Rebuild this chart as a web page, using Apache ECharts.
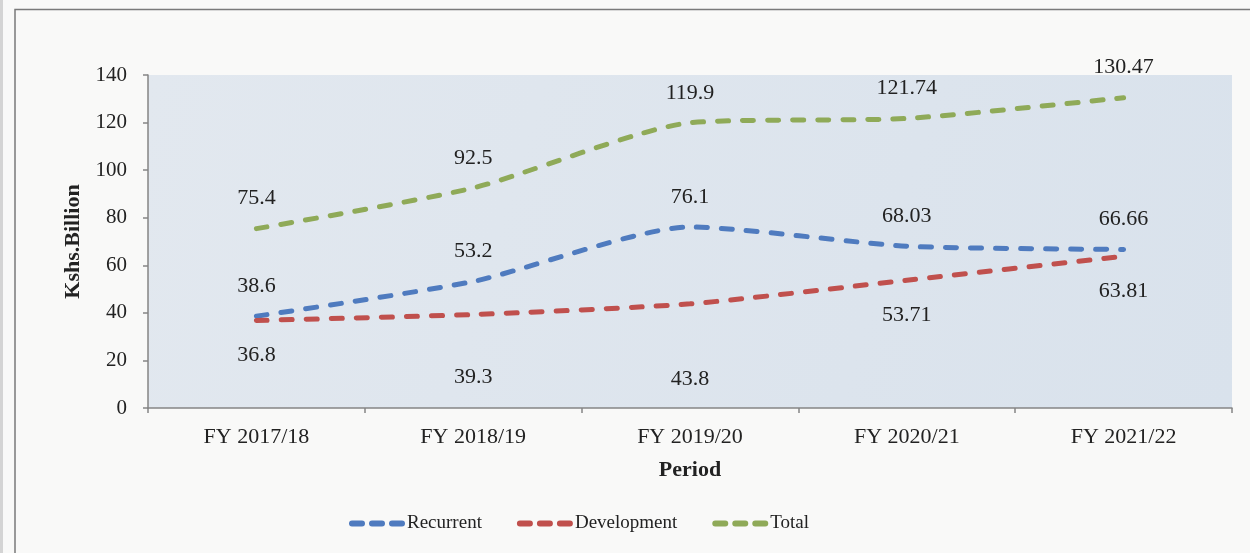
<!DOCTYPE html>
<html>
<head>
<meta charset="utf-8">
<script src="https://cdn.jsdelivr.net/npm/echarts@6/dist/echarts.min.js"></script>
<style>
  html, body { margin: 0; padding: 0; background: #f9f9f8; }
  #chart { width: 1250px; height: 553px; }
</style>
</head>
<body>
<div id="chart"></div>
<script>
// Expenditure by financial year (Kshs. Billion)
const periods = ['FY 2017/18', 'FY 2018/19', 'FY 2019/20', 'FY 2020/21', 'FY 2021/22'];
const recurrent = [38.6, 53.2, 76.1, 68.03, 66.66];
const development = [36.8, 39.3, 43.8, 53.71, 63.81];
const total = [75.4, 92.5, 119.9, 121.74, 130.47];
const yTicks = { min: 0, max: 140, step: 20 };

// extra downward nudge for the crowded development labels
const devLabelNudge = [0, 28, 40, 0, 0];

const font = 'Liberation Serif, Times New Roman, serif';
const textColor = '#222';
const dash = [11, 14];

// three short rounded dashes used as the legend key
const dashIcon = 'path://' +
  'M3,0H13A3,3 0 0 1 13,6H3A3,3 0 0 1 3,0Z' +
  'M23,0H33A3,3 0 0 1 33,6H23A3,3 0 0 1 23,0Z' +
  'M43,0H53A3,3 0 0 1 53,6H43A3,3 0 0 1 43,0Z';

function lineSeries(name, values, color, labelPos, distance, nudge) {
  const data = values.map((v, i) => {
    if (nudge && nudge[i]) {
      return { value: v, label: { offset: [0, nudge[i]] } };
    }
    return v;
  });
  return {
    name: name,
    type: 'line',
    smooth: 0.22,
    showSymbol: true,
    symbol: 'circle',
    symbolSize: 0,
    lineStyle: { color: color, width: 5, type: dash, cap: 'round' },
    itemStyle: { color: color },
    data: data,
    label: {
      show: true,
      position: labelPos,
      distance: distance,
      fontFamily: font,
      fontSize: 22,
      color: textColor
    }
  };
}

const chart = echarts.init(document.getElementById('chart'));
chart.setOption({
  backgroundColor: '#f9f9f8',
  animation: false,
  textStyle: { fontFamily: font, color: textColor },
  graphic: [
    { type: 'rect', shape: { x: 0, y: 0, width: 3, height: 553 }, style: { fill: '#d4d4d4' }, silent: true },
    { type: 'polyline', shape: { points: [[15, 553], [15, 9.5], [1250, 9.5]] },
      style: { stroke: '#7a7a7a', lineWidth: 1.5, fill: null }, silent: true }
  ],
  grid: {
    left: 148, right: 18, top: 75, bottom: 145,
    show: true,
    borderWidth: 0,
    backgroundColor: {
      type: 'linear', x: 0, y: 0, x2: 1, y2: 1,
      colorStops: [{ offset: 0, color: '#e2e8ef' }, { offset: 1, color: '#d9e2ec' }]
    }
  },
  legend: {
    left: 344, top: 509,
    icon: dashIcon,
    itemWidth: 56, itemHeight: 6, itemGap: 35,
    textStyle: { fontFamily: font, fontSize: 19, color: textColor, padding: [0, 0, 0, -3] },
    data: ['Recurrent', 'Development', 'Total']
  },
  xAxis: {
    type: 'category',
    data: periods,
    boundaryGap: true,
    name: 'Period',
    nameLocation: 'middle',
    nameGap: 51,
    nameTextStyle: { fontFamily: font, fontSize: 22, fontWeight: 'bold', color: textColor },
    axisLine: { lineStyle: { color: '#858585', width: 1.5 } },
    axisTick: { show: true, length: 5, lineStyle: { color: '#858585', width: 1.5 } },
    axisLabel: { fontFamily: font, fontSize: 22, color: textColor, margin: 18 }
  },
  yAxis: {
    type: 'value',
    min: yTicks.min, max: yTicks.max, interval: yTicks.step,
    name: 'Kshs.Billion',
    nameLocation: 'middle',
    nameGap: 56,
    nameTextStyle: { fontFamily: font, fontSize: 22, fontWeight: 'bold', color: textColor },
    axisLine: { show: true, lineStyle: { color: '#858585', width: 1.5 } },
    axisTick: { show: true, length: 5, lineStyle: { color: '#858585', width: 1.5 } },
    splitLine: { show: false },
    axisLabel: { fontFamily: font, fontSize: 21, color: textColor, margin: 21 }
  },
  series: [
    lineSeries('Recurrent', recurrent, '#4f7bbf', 'top', 19),
    lineSeries('Development', development, '#c0504d', 'bottom', 24, devLabelNudge),
    lineSeries('Total', total, '#8faa58', 'top', 19)
  ]
});
</script>
</body>
</html>
